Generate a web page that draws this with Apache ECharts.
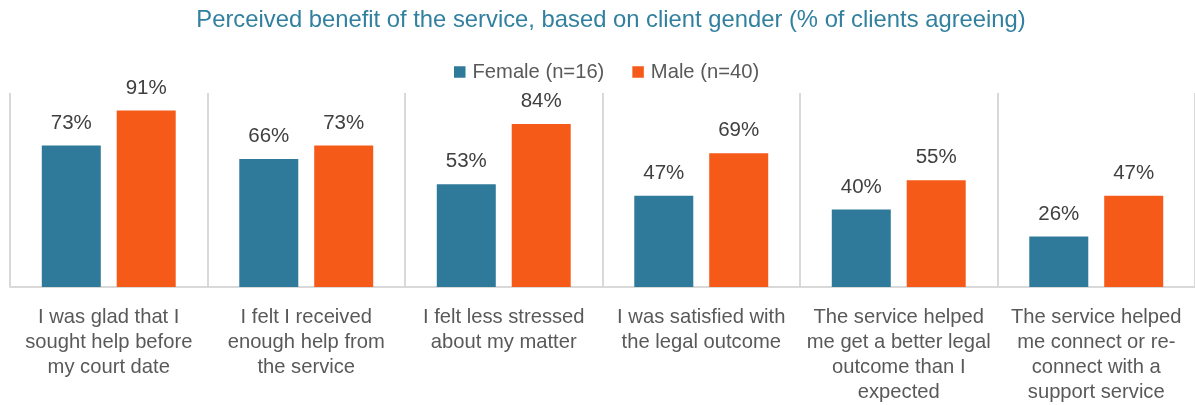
<!DOCTYPE html>
<html>
<head>
<meta charset="utf-8">
<script src="https://cdn.jsdelivr.net/npm/echarts@6/dist/echarts.min.js"></script>
<style>
  html, body { margin: 0; padding: 0; background: #fff; }
  #chart { width: 1195px; height: 405px; }
</style>
</head>
<body>
<div id="chart"></div>
<script>
// Survey statements (x-axis categories)
const categories = [
  'I was glad that I\nsought help before\nmy court date',
  'I felt I received\nenough help from\nthe service',
  'I felt less stressed\nabout my matter',
  'I was satisfied with\nthe legal outcome',
  'The service helped\nme get a better legal\noutcome than I\nexpected',
  'The service helped\nme connect or re-\nconnect with a\nsupport service'
];
// Percent of clients agreeing
const femaleValues = [73, 66, 53, 47, 40, 26];
const maleValues = [91, 73, 84, 69, 55, 47];
const seriesNames = ['Female (n=16)', 'Male (n=40)'];

const FONT = '"Liberation Sans", Arial, sans-serif';
const chart = echarts.init(document.getElementById('chart'), null, { renderer: 'canvas' });

const labelStyle = {
  show: true,
  position: 'top',
  distance: 12,
  formatter: '{c}%',
  color: '#404040',
  fontSize: 20.5,
  fontFamily: FONT
};

chart.setOption({
  animation: false,
  backgroundColor: '#ffffff',
  title: {
    text: 'Perceived benefit of the service, based on client gender (% of clients agreeing)',
    left: 606,
    textAlign: 'center',
    top: 3,
    textStyle: { color: '#31809f', fontSize: 23.8, fontWeight: 'normal', fontFamily: FONT }
  },
  legend: {
    data: seriesNames,
    left: 449,
    top: 57,
    itemWidth: 11.5,
    itemHeight: 11.5,
    itemGap: 28,
    icon: 'rect',
    textStyle: { color: '#595959', fontSize: 20.2, fontFamily: FONT, padding: [0, 0, 0, 2] }
  },
  grid: { left: 10, right: 0, top: 93, bottom: 118, containLabel: false },
  xAxis: {
    type: 'category',
    data: categories,
    axisLine: { show: true, lineStyle: { color: '#d9d9d9', width: 2 } },
    axisTick: { show: false },
    splitLine: { show: true, lineStyle: { color: '#d9d9d9', width: 2 } },
    axisLabel: {
      color: '#595959',
      fontSize: 20.2,
      lineHeight: 25,
      fontFamily: FONT,
      margin: 18,
      interval: 0
    }
  },
  yAxis: {
    type: 'value',
    min: 0,
    max: 100,
    show: false,
    splitLine: { show: false }
  },
  series: [
    {
      name: seriesNames[0],
      type: 'bar',
      data: femaleValues,
      barWidth: 59,
      barGap: '27%',
      itemStyle: { color: '#2f7a9a' },
      label: labelStyle
    },
    {
      name: seriesNames[1],
      type: 'bar',
      data: maleValues,
      barWidth: 59,
      itemStyle: { color: '#f55a19' },
      label: labelStyle
    }
  ]
});
</script>
</body>
</html>
